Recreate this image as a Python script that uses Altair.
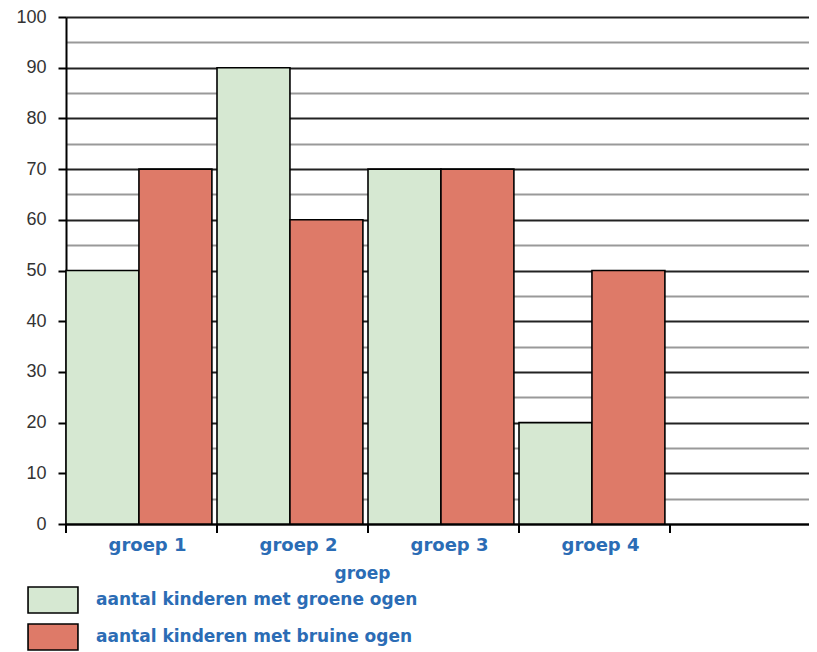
import altair as alt
import pandas as pd

groups = ["groep 1", "groep 2", "groep 3", "groep 4"]
green_values = [50, 90, 70, 20]
brown_values = [70, 60, 70, 50]
series_names = ["aantal kinderen met groene ogen", "aantal kinderen met bruine ogen"]
series_colors = ["#d6e8d2", "#de7a68"]
x_domain = groups + [" "]
y_ticks = list(range(0, 101, 5))

rows = []
for g, gv, bv in zip(groups, green_values, brown_values):
    rows.append({"groep": g, "serie": series_names[0], "aantal": gv})
    rows.append({"groep": g, "serie": series_names[1], "aantal": bv})
df = pd.DataFrame(rows)
tick_df = pd.DataFrame({"groep": x_domain})

BLUE = "#2b6cb5"
LABEL_FONT = "DejaVu Sans"
W, H = 743, 507

xscale = alt.Scale(domain=x_domain, range=[0, 755], paddingInner=0, paddingOuter=0)
yscale = alt.Scale(domain=[0, 100], nice=False)

bars = alt.Chart(df).mark_bar(stroke="black", strokeWidth=1.6, opacity=1).encode(
    x=alt.X("groep:N", scale=xscale, sort=x_domain,
            axis=alt.Axis(title="groep", labelAngle=0, labelFont=LABEL_FONT, labelFontWeight="bold",
                          labelFontSize=18, labelColor=BLUE, labelPadding=12, labelOffset=6,
                          ticks=False, domainColor="black", domainWidth=2,
                          titleFont=LABEL_FONT, titleFontWeight="bold", titleFontSize=17,
                          titleColor=BLUE, titleX=296, titleY=41, titleAnchor="middle")),
    xOffset=alt.XOffset("serie:N", sort=series_names,
                        scale=alt.Scale(paddingInner=0, paddingOuter=0.035, align=0)),
    y=alt.Y("aantal:Q", scale=yscale,
            axis=alt.Axis(title=None, values=y_ticks,
                          labelExpr="datum.value % 10 === 0 ? datum.label : ''",
                          labelFont="Liberation Sans", labelFontSize=18, labelColor="#333",
                          labelPadding=12, tickSize=8,
                          tickColor={"condition": {"test": "datum.value % 10 === 0", "value": "black"}, "value": "transparent"},
                          tickWidth=2,
                          grid=True,
                          gridColor={"condition": {"test": "datum.value % 10 === 0", "value": "#222"}, "value": "#999"},
                          gridWidth=2, gridOpacity=1,
                          domainColor="black", domainWidth=2)),
    fill=alt.Fill("serie:N", scale=alt.Scale(domain=series_names, range=series_colors),
                  legend=alt.Legend(title=None, orient="none", legendX=-27, legendY=569,
                                    direction="vertical",
                                    symbolType="M-1.92,-1L1.92,-1L1.92,1L-1.92,1Z",
                                    symbolSize=676, symbolStrokeColor="black",
                                    symbolStrokeWidth=1.6, symbolOpacity=1,
                                    labelFont=LABEL_FONT, labelFontWeight="bold", labelFontSize=17,
                                    labelColor=BLUE, labelOffset=29, rowPadding=3,
                                    labelLimit=500)),
)

ticks = alt.Chart(tick_df).mark_rule(color="black", strokeWidth=2).encode(
    x=alt.X("groep:N", scale=xscale, sort=x_domain, bandPosition=0),
    y=alt.value(H),
    y2=alt.value(H + 9),
)

chart = alt.layer(bars, ticks).properties(
    width=W, height=H,
    autosize=alt.AutoSizeParams(type="none"),
    padding={"left": 58, "top": 9, "right": 0, "bottom": 128},
).configure_view(stroke=None)

chart.save("out.html", embed_options={"renderer": "svg", "actions": False})
